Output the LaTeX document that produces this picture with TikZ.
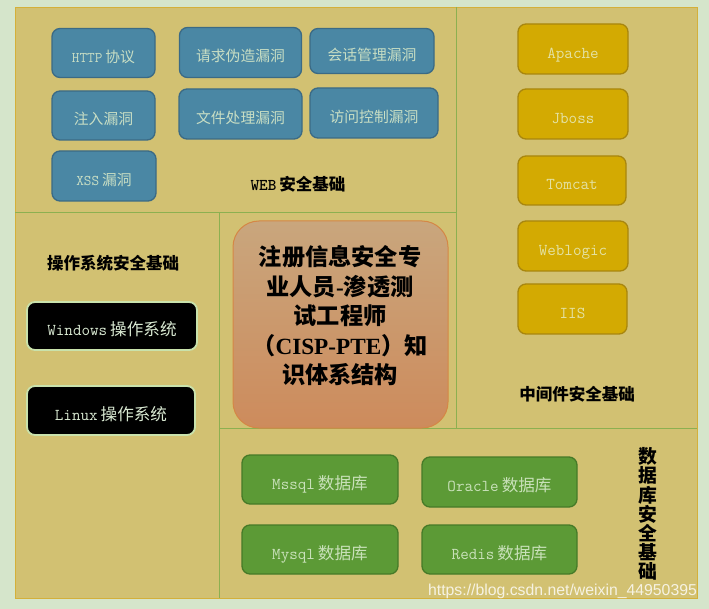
\documentclass[tikz,border=0pt]{standalone}
\usepackage{fontspec}
\newfontfamily\cjk{Noto Sans CJK SC}
\newfontfamily\wmfont{Liberation Sans}
\newfontfamily\serifb{Liberation Serif}
\newcommand\zh[1]{{\cjk #1}}
\newcommand\gapx{\hspace{3pt}}
\definecolor{bgG}{HTML}{D5E5CB}
\definecolor{panelF}{HTML}{D2C172}
\definecolor{panelD}{HTML}{D4B03A}
\definecolor{divG}{HTML}{8CB050}
\definecolor{blueF}{HTML}{4A87A4}
\definecolor{blueD}{HTML}{3B6A85}
\definecolor{blueT}{HTML}{C8DEC4}
\definecolor{goldF}{HTML}{D3AA02}
\definecolor{goldD}{HTML}{A8860E}
\definecolor{goldT}{HTML}{E4E2A4}
\definecolor{blkD}{HTML}{C9E2AC}
\definecolor{blkT}{HTML}{D9E9D2}
\definecolor{grnF}{HTML}{5C9A36}
\definecolor{grnD}{HTML}{467A28}
\definecolor{grnT}{HTML}{C9E1BA}
\definecolor{ctrTop}{HTML}{C9A67D}
\definecolor{ctrBot}{HTML}{CD8B5C}
\definecolor{ctrD}{HTML}{D58745}
\tikzset{
  box/.style={draw, rounded corners=8pt, line width=1.3pt, text height=19pt, text depth=0pt,
    inner sep=0pt, font=\ttfamily\fontsize{16.6}{19}\selectfont},
  bluebox/.style={box, fill=blueF, draw=blueD, text=blueT, font=\ttfamily\fontsize{14.8}{18}\selectfont},
  goldbox/.style={box, fill=goldF, draw=goldD, text=goldT},
  blkbox/.style={box, fill=black, draw=blkD, line width=1.8pt, text=blkT},
  grnbox/.style={box, fill=grnF, draw=grnD, text=grnT},
  lbl/.style={font=\cjk\bfseries\fontsize{16.5}{20}\selectfont, text=black, inner sep=0pt},
  divider/.style={draw=divG, line width=0.9pt},
}
\begin{document}
\begin{tikzpicture}[x=1pt,y=-1pt]
\useasboundingbox (0,0) rectangle (709,609);
\fill[bgG] (0,0) rectangle (709,609);
% main panel
\draw[fill=panelF, draw=panelD, line width=0.9pt] (15,7) rectangle (697,598);
% dividers
\draw[divider] (15,212.5) -- (456,212.5);
\draw[divider] (456,7) -- (456,428);
\draw[divider] (219,212.5) -- (219,598);
\draw[divider] (219,428) -- (697,428);

% WEB section
\node[bluebox, minimum width=103pt, minimum height=49pt] (http) at (103.5,53) {HTTP\gapx\zh{协议}};
\node[bluebox, minimum width=122pt, minimum height=50pt] (qq) at (240.5,52.5) {\zh{请求伪造漏洞}};
\node[bluebox, minimum width=124pt, minimum height=45pt] (hh) at (372,51) {\zh{会话管理漏洞}};
\node[bluebox, minimum width=103pt, minimum height=49pt] (zr) at (103.5,115.5) {\zh{注入漏洞}};
\node[bluebox, minimum width=123pt, minimum height=50pt] (wj) at (240.5,114) {\zh{文件处理漏洞}};
\node[bluebox, minimum width=128pt, minimum height=50pt] (fw) at (374,113) {\zh{访问控制漏洞}};
\node[bluebox, minimum width=104pt, minimum height=50pt] (xss) at (104,176) {XSS\gapx\zh{漏洞}};
\node[lbl] (web) at (298,184) {{\ttfamily\bfseries WEB}\gapx 安全基础};

% middleware
\node[goldbox, minimum width=110pt, minimum height=50pt] (apache) at (573,49) {Apache};
\node[goldbox, minimum width=110pt, minimum height=50pt] (jboss) at (573,114) {Jboss};
\node[goldbox, minimum width=108pt, minimum height=49pt] (tomcat) at (572,180.5) {Tomcat};
\node[goldbox, minimum width=110pt, minimum height=50pt] (weblogic) at (573,246) {Weblogic};
\node[goldbox, minimum width=109pt, minimum height=50pt] (iis) at (572.5,309) {IIS};
\node[lbl] (mid) at (577,394) {中间件安全基础};

% OS
\node[lbl] (os) at (113,263) {操作系统安全基础};
\node[blkbox, minimum width=170pt, minimum height=48pt] (win) at (112,326) {Windows\gapx\zh{操作系统}};
\node[blkbox, minimum width=168pt, minimum height=49pt] (linux) at (111,410.5) {Linux\gapx\zh{操作系统}};

% center
\node[draw=ctrD, line width=1pt, rounded corners=26pt, top color=ctrTop, bottom color=ctrBot,
  minimum width=215pt, minimum height=207pt] (core) at (340.5,324.5) {};
\node[font=\cjk\bfseries\fontsize{23.2}{29.5}\selectfont, align=center, inner sep=0pt] (coretext) at (340,316)
  {注册信息安全专\\业人员{\serifb\bfseries -}渗透测\\试工程师\\（{\serifb\bfseries CISP-PTE}）知\\识体系结构};

% database
\node[grnbox, minimum width=156pt, minimum height=49pt] (mssql) at (320,479.5) {Mssql\gapx\zh{数据库}};
\node[grnbox, minimum width=155pt, minimum height=50pt] (oracle) at (499.5,482) {Oracle\gapx\zh{数据库}};
\node[grnbox, minimum width=156pt, minimum height=49pt] (mysql) at (320,549.5) {Mysql\gapx\zh{数据库}};
\node[grnbox, minimum width=155pt, minimum height=49pt] (redis) at (499.5,549.5) {Redis\gapx\zh{数据库}};
\node[font=\cjk\bfseries\fontsize{18.8}{19.1}\selectfont, align=center, inner sep=0pt] (db) at (648,514)
  {数\\据\\库\\安\\全\\基\\础};

% watermark
\node[font=\wmfont\fontsize{15.8}{18}\selectfont, text=white, text opacity=0.8, inner sep=0pt] (wm) at (562.5,591)
  {https://blog.csdn.net/weixin\_44950395};
\end{tikzpicture}
\end{document}
